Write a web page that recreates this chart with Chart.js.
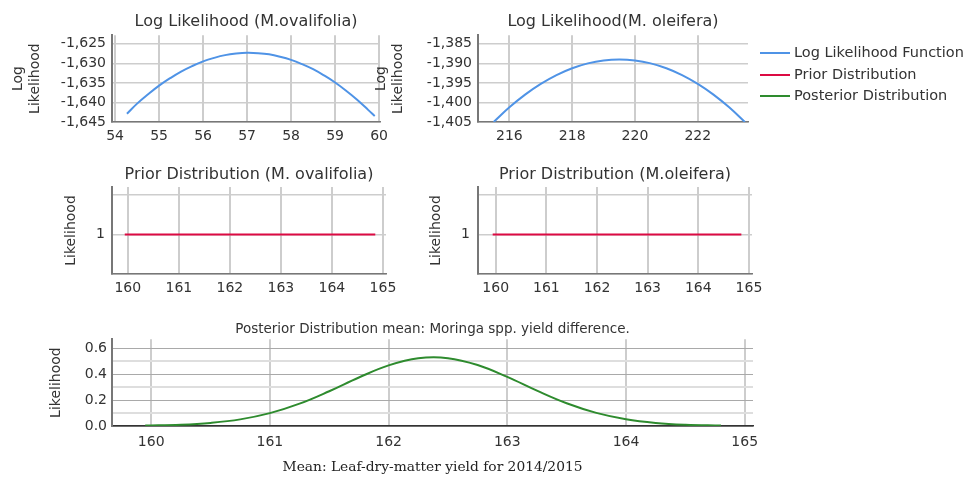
<!DOCTYPE html>
<html>
<head>
<meta charset="utf-8">
<script src="https://cdn.jsdelivr.net/npm/chart.js@4.4.1/dist/chart.umd.min.js"></script>
<style>
    html, body { margin: 0; padding: 0; background: #fff; }
    body { width: 970px; height: 477px; position: relative; overflow: hidden; font-family: "DejaVu Sans", sans-serif; }
    canvas { position: absolute; }
    .legend { position: absolute; left: 760px; top: 42px; font-size: 14.5px; color: #333; }
    .legend div { height: 21.5px; line-height: 21.5px; white-space: nowrap; }
    .legend span { display: inline-block; width: 30px; height: 2px; vertical-align: middle; margin-right: 4px; }
</style>
</head>
<body>
<canvas id="llOval" style="left:0;top:0" width="400" height="145"></canvas>
<canvas id="llOle" style="left:370px;top:0" width="395" height="145"></canvas>
<canvas id="priorOval" style="left:0;top:150px" width="400" height="150"></canvas>
<canvas id="priorOle" style="left:370px;top:150px" width="395" height="150"></canvas>
<canvas id="posterior" style="left:0;top:310px" width="775" height="167"></canvas>
<div class="legend" id="legend"></div>

<script>
// Log likelihood, M. ovalifolia
const llOvalX = [54.27, 54.5, 54.75, 55, 55.25, 55.5, 55.75, 56, 56.25, 56.5, 56.75, 57, 57.25, 57.5, 57.75, 58, 58.25, 58.5, 58.75, 59, 59.25, 59.5, 59.75, 59.9];
const llOvalY = [-1642.9, -1640.3, -1637.9, -1635.7, -1633.8, -1632.1, -1630.7, -1629.5, -1628.6, -1627.9, -1627.5, -1627.3, -1627.4, -1627.7, -1628.3, -1629.1, -1630.2, -1631.5, -1633.1, -1634.9, -1637.0, -1639.3, -1641.9, -1643.5];

// Log likelihood, M. oleifera
const llOleX = [215.5, 216, 216.5, 217, 217.5, 218, 218.5, 219, 219.5, 220, 220.5, 221, 221.5, 222, 222.5, 223, 223.5];
const llOleY = [-1405, -1401.25, -1398, -1395.25, -1393, -1391.25, -1390, -1389.25, -1389, -1389.25, -1390, -1391.25, -1393, -1395.25, -1398, -1401.25, -1405];

// Prior distributions (flat)
const priorX = [159.94, 164.85];
const priorY = [1, 1];

// Posterior of mean difference
const postX = [159.95, 160.25, 160.5, 160.75, 161, 161.25, 161.5, 161.75, 162, 162.25, 162.5, 162.75, 163, 163.25, 163.5, 163.75, 164, 164.25, 164.5, 164.8];
const postY = [0.003, 0.010, 0.024, 0.051, 0.099, 0.172, 0.268, 0.374, 0.467, 0.522, 0.523, 0.470, 0.378, 0.272, 0.175, 0.101, 0.052, 0.024, 0.010, 0.003];

const legendItems = ['Log Likelihood Function', 'Prior Distribution', 'Posterior Distribution'];
const seriesColors = ['#4f93e6', '#dc0a43', '#2e8b2e'];

const TEXT = '#333';
const GRID = '#cdcdcd';
const AXIS = '#777';
const SANS = '"DejaVu Sans", "Liberation Sans", sans-serif';

function pts(xs, ys) {
    return xs.map((x, i) => ({ x, y: ys[i] }));
}

function fixWidth(w) {
    return (scale) => { scale.width = w; };
}

function fixHeight(h) {
    return (scale) => {
        scale.height = h;
        scale.paddingLeft = 0;
        scale.paddingRight = 0;
    };
}

function makeChart(id, opts) {
    const ctx = document.getElementById(id).getContext('2d');
    return new Chart(ctx, {
        type: 'line',
        data: {
            datasets: [{
                data: pts(opts.xs, opts.ys),
                borderColor: opts.color,
                borderWidth: 2,
                pointRadius: 0,
                tension: 0.4,
                fill: false
            }]
        },
        options: {
            responsive: false,
            animation: false,
            events: [],
            layout: { padding: { left: 0, right: opts.padRight, top: 0, bottom: 0 } },
            plugins: {
                legend: { display: false },
                tooltip: { enabled: false },
                title: {
                    display: true,
                    text: opts.title,
                    fullSize: false,
                    color: TEXT,
                    font: { size: opts.titleSize || 16, family: SANS, weight: 'normal' },
                    padding: opts.titlePad
                }
            },
            scales: {
                x: {
                    type: 'linear',
                    min: opts.xMin,
                    max: opts.xMax,
                    afterFit: fixHeight(opts.xHeight),
                    border: { color: opts.xBorder || AXIS, width: 1.5 },
                    grid: { color: GRID, lineWidth: 2, drawTicks: false, tickLength: 0 },
                    ticks: {
                        stepSize: opts.xStep,
                        includeBounds: false,
                        maxRotation: 0,
                        autoSkip: false,
                        padding: opts.xTickPad || 6,
                        color: TEXT,
                        font: { size: 14, family: SANS }
                    },
                    title: opts.xTitle ? {
                        display: true,
                        text: opts.xTitle,
                        color: '#222',
                        font: { size: 13.8, family: '"DejaVu Serif", "Liberation Serif", serif' },
                        padding: { top: 0, bottom: 1 }
                    } : { display: false }
                },
                y: {
                    type: 'linear',
                    min: opts.yMin,
                    max: opts.yMax,
                    afterFit: fixWidth(opts.yWidth),
                    border: { color: AXIS, width: 2 },
                    grid: {
                        color: opts.yGridColor || GRID,
                        lineWidth: opts.yGridWidth || 1.5,
                        drawTicks: false,
                        tickLength: 0
                    },
                    ticks: {
                        stepSize: opts.yStep,
                        includeBounds: false,
                        autoSkip: false,
                        padding: opts.yTickPad,
                        color: TEXT,
                        font: { size: 14, family: SANS },
                        callback: opts.yFormat
                    },
                    title: {
                        display: true,
                        text: opts.yTitle,
                        color: TEXT,
                        font: { size: 14, family: SANS, lineHeight: 1.2 },
                        padding: { top: opts.yTitlePad, bottom: 0 }
                    }
                }
            }
        }
    });
}

const commaFmt = (v) => Number(v).toLocaleString('en-US');

makeChart('llOval', {
    xs: llOvalX, ys: llOvalY, color: seriesColors[0],
    title: 'Log Likelihood (M.ovalifolia)', titlePad: { top: 12, bottom: 4 },
    padRight: 20,
    xMin: 53.93, xMax: 60.02, xStep: 1, xHeight: 23,
    yMin: -1645, yMax: -1622.8, yStep: 5, yWidth: 112, yTickPad: 6,
    yFormat: commaFmt,
    yTitle: ['Log', 'Likelihood'], yTitlePad: 10
});

makeChart('llOle', {
    xs: llOleX, ys: llOleY, color: seriesColors[0],
    title: 'Log Likelihood(M. oleifera)', titlePad: { top: 12, bottom: 4 },
    padRight: 17,
    xMin: 215.0, xMax: 223.6, xStep: 2, xHeight: 23,
    yMin: -1405, yMax: -1382.8, yStep: 5, yWidth: 108, yTickPad: 6,
    yFormat: commaFmt,
    yTitle: ['Log', 'Likelihood'], yTitlePad: 3
});

makeChart('priorOval', {
    xs: priorX, ys: priorY, color: seriesColors[1],
    title: 'Prior Distribution (M. ovalifolia)', titlePad: { top: 15, bottom: 2.8 },
    padRight: 14,
    xMin: 159.69, xMax: 165.06, xStep: 1, xHeight: 26,
    yMin: 0.5, yMax: 1.6, yStep: 0.5, yWidth: 112, yTickPad: 7,
    yFormat: (v) => (v === 1 ? '1' : ''),
    yTitle: 'Likelihood', yTitlePad: 63
});

makeChart('priorOle', {
    xs: priorX, ys: priorY, color: seriesColors[1],
    title: 'Prior Distribution (M.oleifera)', titlePad: { top: 15, bottom: 2.8 },
    padRight: 13,
    xMin: 159.65, xMax: 165.06, xStep: 1, xHeight: 26,
    yMin: 0.5, yMax: 1.6, yStep: 0.5, yWidth: 108, yTickPad: 8,
    yFormat: (v) => (v === 1 ? '1' : ''),
    yTitle: 'Likelihood', yTitlePad: 58
});

makeChart('posterior', {
    xs: postX, ys: postY, color: seriesColors[2],
    title: 'Posterior Distribution mean: Moringa spp. yield difference.', titleSize: 13.5,
    titlePad: { top: 11, bottom: 2 },
    padRight: 22,
    xMin: 159.67, xMax: 165.07, xStep: 1, xHeight: 51, xTickPad: 8, xBorder: '#333',
    xTitle: 'Mean: Leaf-dry-matter yield for 2014/2015',
    yMin: 0, yMax: 0.669, yStep: 0.1, yWidth: 112, yTickPad: 5,
    yFormat: (v) => (Math.round(v * 10) % 2 === 0 ? Number(v).toFixed(1) : ''),
    yGridColor: (c) => (Math.round((c.tick?.value || 0) * 10) % 2 === 0 ? '#a9a9a9' : '#dedede'),
    yGridWidth: (c) => (Math.round((c.tick?.value || 0) * 10) % 2 === 0 ? 1 : 2),
    yTitle: 'Likelihood', yTitlePad: 48
});

document.getElementById('legend').innerHTML = legendItems.map((label, i) =>
    `<div><span style="background:${seriesColors[i]}"></span>${label}</div>`
).join('');
</script>
</body>
</html>
